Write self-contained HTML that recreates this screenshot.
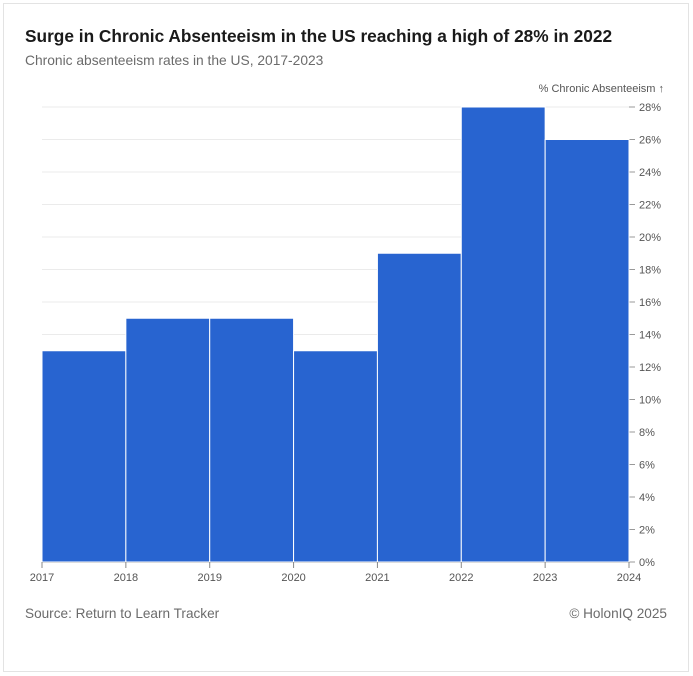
<!DOCTYPE html>
<html><head><meta charset="utf-8"><style>
html,body{margin:0;padding:0;background:#fff;width:693px;height:676px;overflow:hidden;font-family:"Liberation Sans",Arial,sans-serif}
#card{position:absolute;left:3px;top:3px;width:686px;height:669px;border:1px solid #e3e3e3;box-sizing:border-box}
.t{position:absolute;white-space:nowrap}
</style></head><body>
<div id="card"></div>
<div class="t" style="left:25px;top:26px;font-size:17.3px;font-weight:bold;color:#1a1a1a">Surge in Chronic Absenteeism in the US reaching a high of 28% in 2022</div>
<div class="t" style="left:25px;top:53px;font-size:13.8px;color:#6b6b6b">Chronic absenteeism rates in the US, 2017-2023</div>
<div class="t" style="left:25px;top:606px;font-size:13.6px;color:#6b6b6b">Source: Return to Learn Tracker</div>
<div class="t" style="right:26px;top:606px;font-size:13.6px;color:#6b6b6b">© HolonIQ 2025</div>
<svg id="chart" width="693" height="676" style="position:absolute;left:0;top:0"></svg>
<script>
const years=[2017,2018,2019,2020,2021,2022,2023];
const values=[13,15,15,13,19,28,26];
const xTicks=[2017,2018,2019,2020,2021,2022,2023,2024];
const yTicks=[0,2,4,6,8,10,12,14,16,18,20,22,24,26,28];
const NS="http://www.w3.org/2000/svg";
const svg=document.getElementById('chart');
const x0=42,x1=629,y0=562,y1=107;
const xs=v=>x0+(v-2017)*(x1-x0)/7;
const ys=v=>y0-v*(y0-y1)/28;
function mk(t,a){const e=document.createElementNS(NS,t);for(const k in a)e.setAttribute(k,a[k]);svg.appendChild(e);return e;}
yTicks.forEach(v=>{
 if(v>0){const g=mk('line',{x1:x0,x2:x1,y1:ys(v),y2:ys(v),stroke:'#ebebeb'});
 
 }
 const tk=mk('line',{x1:x1,x2:x1+6,y1:ys(v),y2:ys(v),stroke:'#999'});
 
 
 const t=mk('text',{x:x1+10,y:ys(v)+4,'font-size':11,fill:'#555','font-family':'Liberation Sans, sans-serif'});
 t.textContent=v+'%';
 
 
});
years.forEach((yr,i)=>{
 const r=mk('rect',{x:xs(yr),y:ys(values[i]),width:xs(yr+1)-xs(yr),height:y0-ys(values[i]),fill:'#2864d0',stroke:'#fff','stroke-width':1});
 
 
});
mk('line',{x1:x0,x2:x1,y1:y0+0.5,y2:y0+0.5,stroke:'#ddd'});
xTicks.forEach(v=>{
 const tk=mk('line',{x1:xs(v),x2:xs(v),y1:y0,y2:y0+6,stroke:'#888'});
 
 
 const t=mk('text',{x:xs(v),y:y0+19,'font-size':11,fill:'#555','text-anchor':'middle','font-family':'Liberation Sans, sans-serif'});
 t.textContent=v;
 
 
});
const at=mk('text',{x:664,y:92,'font-size':11,fill:'#555','text-anchor':'end','font-family':'Liberation Sans, sans-serif'});
at.textContent='% Chronic Absenteeism  ↑';


</script>
</body></html>
